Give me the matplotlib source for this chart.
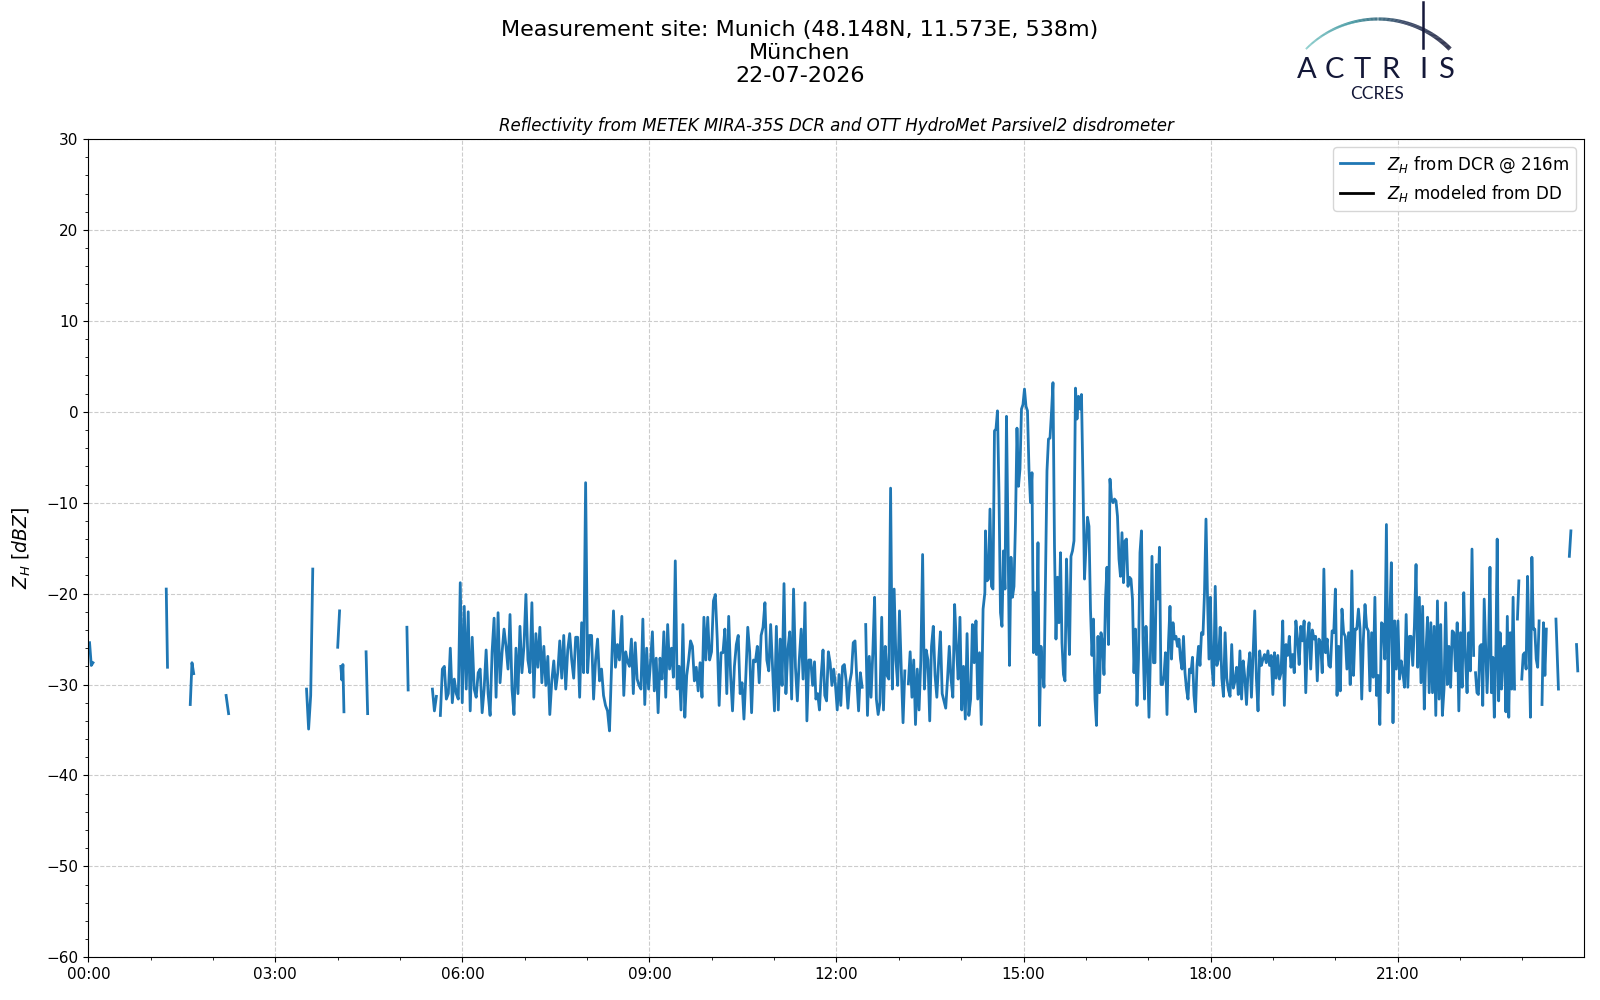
import numpy as np
import matplotlib
matplotlib.use("Agg")
import matplotlib.pyplot as plt
from matplotlib.ticker import MultipleLocator, FuncFormatter
from matplotlib.collections import LineCollection
from matplotlib.colors import LinearSegmentedColormap

nan = np.nan

# --- radar reflectivity (dBZ) ---
# short isolated echoes before the main period: (start h, end h, values)
zh_early = [
    (0.02, 0.075, [-25.4, -27.9, -27.6]),
    (1.25, 1.27, [-19.5, -28.1]),
    (1.635, 1.69, [-32.2, -27.6, -28.8]),
    (2.21, 2.25, [-31.2, -33.2]),
    (3.50, 3.60, [-30.5, -34.9, -31.2, -17.3]),
    (4.00, 4.03, [-25.9, -21.9]),
    (4.05, 4.10, [-28.0, -29.5, -27.8, -33.0]),
    (4.455, 4.48, [-26.4, -33.2]),
    (5.11, 5.13, [-23.7, -30.6]),
]

t_a = (5.519, 8.519)
zh_a = [-30.5, -32.9, -31.3, nan, -33.4, -28.3, -28, -31.6, -31, -26,
        -32, -29.4, -31, -31.6, -18.8, -32, -21.4, -30.5, -22, -32.9,
        -24.8, -30.5, -31.4, -28.7, -28.3, -33.1, -30.5, -26.2, -31, -33.4,
        -26.4, -22.7, -31.4, -22.1, -29.8, -26.5, -23.9, -25.8, -28.3, -22.3,
        -30.5, -33.3, -26, -31, -23.6, -28.7, -25.8, -20.1, -27.3, -28.7,
        -21, -31.4, -24.4, -28.1, -23.7, -29.8, -25.8, -30.1, -26.9, -33.3,
        -29.6, -27.4, -30.5, -28.7, -25.2, -29.3, -24.6, -30.5, -26.2, -24.4,
        -27.3, -29.3, -24.8, -24.8, -31.4, -23.2, -28.7, -7.8, -28.7, -24.6,
        -24.6, -31.6, -27.3, -25, -29.6, -28.3, -31.2, -32.3, -32.9, -35.1,
        -28.3, -21.9, -28.1, -25.6, -27.3]

t_b = (8.558, 11.648)
zh_b = [-22.5, -31.2, -26.4, -27.5, -28, -25, -31, -25.4, -29.4, -30.1,
        -30.5, -22.8, -32.2, -26, -30.5, -27.6, -24.2, -30.7, -27.1, -33.1,
        -27.1, -29.4, -24.2, -31.4, -23.4, -28.3, -26, -29.2, -16.4, -30.5,
        -28, -32.8, -23.4, -33.6, -29, -27.3, -25.2, -25.8, -29.6, -28.1,
        -30.7, -27.6, -31.4, -22.6, -27.3, -22.6, -27.3, -26.4, -20.8, -20.1,
        -25, -32.3, -26.5, -26.5, -23.9, -31, -22.5, -29, -32.9, -28,
        -25.6, -24.6, -31, -29.8, -33.8, -29, -23.7, -26.4, -33.1, -27.3,
        -27.5, -25.8, -29.8, -24.6, -23.7, -21, -27.3, -28.5, -23.4, -28.1,
        -32.9, -23.6, -32.8, -25, -30.1, -18.9, -31, -26.2, -24.2, -31.6,
        -19.5, -28.1, -31.8, -27.3, -23.9, -29.4, -21, -34, -27.3, -27.3,
        -30.1, -27.5]

t_c = (11.67, 14.38)
zh_c = [-31.6, -31, -32.8, -28.9, -26.2, -31.2, -31.8, -26.4, -27.6, -30.1,
        -28.3, -30.1, -32.8, -28.9, -32.3, -28, -27.8, -29.6, -32.6, -29.8,
        -28.7, -25.4, -25.2, -29.4, -32.9, -28.7, -30.3, nan, -23.4, -33.4,
        -26.9, -31.4, -26.5, -20.4, -31.6, -33.3, -32, -22.6, -32.8, -25.8,
        -29, -29.4, -8.4, -30.5, -19.5, -27.3, -30.1, -21.9, -28.3, -34.2,
        -28.5, nan, -29.9, -26.4, -31.4, -27.3, -34.4, -28.3, -32.8, -27.3,
        -15.7, -30.5, -26.2, -27.3, -34, -25.8, -23.6, -29, -31.4, -27.5,
        -24.2, -31, -31.8, -32.6, -29.4, -25.8, -29.4, -31.4, -21.2, -25.8,
        -29.4, -22.6, -32.8, -28, -33.8, -24.4, -33.4, -31.6, -23.4, -27.6,
        -23, -31.6, -26.5, -34.4, -21.7, -19.9]

t_d = (14.39, 17.975)
zh_d = [-13.1, -18.6, -18.4, -10.7, -19.2, -19.5, -2.1, -1.9, 0.1, -8.9,
        -22.1, -23.6, -15.3, -19.5, -0.5, -13.3, -27.9, -16, -20.4, -19.2,
        -12.2, -1.8, -8.2, -6.3, 0.3, 0.8, 2.5, 0.6, 0.1, -6.3,
        -10, -6.7, -26.5, -19.9, -26.7, -14.4, -34.5, -25.8, -28.3, -30.3,
        -18.1, -6.5, -3, -2.9, -0.1, 3.2, -14.8, -25, -18.2, -23.2,
        -15.5, -25.4, -28.9, -29.6, -16.2, -22.1, -26.7, -15.9, -15.3, -14.2,
        2.6, -0.8, 1.7, 0.3, 1.9, -7.8, -18.4, -14.8, -11.6, -12.6,
        -21.7, -26.8, -22.8, -31.6, -34.5, -24.7, -30.9, -24.3, -25.4, -28.9,
        -20.6, -17.1, -25.6, -7.4, -9.6, -10, -9.6, -9.8, -11.5, -16.2,
        -18.1, -13.3, -18.8, -14.2, -14, -19.2, -18.2, -18.4, -20.6, -28.7,
        -23.9, -32.3, -27.2, -15.5, -13.1, -25, -31.6, -23.6, -27.2, -33.6,
        -26.5, -15.9, -27.6, -27.6, -16.8, -20.6, -14.9, -30, -30, -29,
        -26.5, -33.3, -25.4, -21.4, -27.2, -23.2, -25, -24.7, -25.8, -25,
        -27.2, -28.3, -24.7, -28.7, -30.5, -31.6, -28.3, -28.7, -27, -31.2,
        -33, -27.9, -25.8, -27.9, -24.3, -24.5, -19.9, -11.8, -20.3, -27.2]

t_e = (17.996, 22.22)
zh_e = [-20.4, -28.1, -30.1, -19.2, -27.9, -27.2, -23.7, -29.3, -31.3, -24.3,
        -29.3, -30.6, -31.3, -25.6, -30.4, -29.6, -28.1, -31.1, -26.3, -31.6,
        -27.4, -29.3, -32.2, -28.3, -26.5, -31.4, -26.5, -21.9, -29.3, -32.9,
        -26.3, -27.9, -27.2, -26.7, -27.6, -26.3, -27.9, -26.8, -31.1, -26.5,
        -29.3, -26.8, -29.4, -28.7, -23, -32.3, -25.6, -26.8, -24.7, -28.1,
        -26.7, -28.7, -23, -25, -27.8, -23.6, -25.2, -23, -30.9, -25,
        -23.2, -28.3, -24, -25, -24.7, -29.6, -25, -25.4, -28.7, -17.3,
        -26.5, -25, -27.9, -28.1, -24.1, -24.3, -19.5, -31.2, -25.8, -30.7,
        -21.7, -24.3, -24.7, -28.3, -24.3, -30, -17.5, -29, -23.9, -23.9,
        -21.7, -23.9, -31.6, -25, -21.2, -23.7, -24.1, -30.7, -24.3, -29.2,
        -20.4, -31.2, -29, -34.4, -23.2, -23.4, -27.2, -12.4, -30.9, -23,
        -16.6, -34.2, -23, -28.3, -23, -29.4, -27.4, -28.7, -30.3, -22.3,
        -30.3, -24.7, -24.7, -27.9, -23.6, -16.8, -28.1, -20.4, -29.8, -21.4,
        -32.7, -26.5, -22.6, -30.9, -23.2, -30.9, -23.6, -33.4, -20.8, -31.6,
        -23.4, -33.4, -30.5, -21, -30, -25.8, -30.3, -24.1, -24.3, -28.5,
        -23.2, -32.9, -24.3, -30.3, -19.9, -27, -30.9, -24.3, -28.5, -15.1,
        -26.8]

t_f = (22.25, 23.386)
zh_f = [-28.7, -30.9, -31.1, -25.8, -25.6, -32.3, -20.6, -25.8, -30.9, -26.1,
        -17.1, -30.9, -27, -33.6, -27.6, -14, -31.8, -24.3, -30.5, -26.1,
        -25.8, -33, -22.5, -33.6, -24.3, -30.5, -20.4, -30.5, nan, -22.8,
        -18.6, nan, -29.4, -26.7, -26.5, -28.3, -18.1, -25, -33.6, -16,
        -23.9, -23.9, -27.2, -28.1, -23, nan, -32.2, -23.2, -29, -23.9]

zh_late = [
    (23.54, 23.58, [-22.8, -30.5]),
    (23.755, 23.78, [-15.9, -13.1]),
    (23.87, 23.89, [-25.6, -28.5]),
]

# assemble one series, NaN between separated pieces
time_h, zh = [], []
for t0, t1, vals in zh_early:
    time_h += list(np.linspace(t0, t1, len(vals))) + [nan]
    zh += vals + [nan]
for (t0, t1), vals in [(t_a, zh_a), (t_b, zh_b), (t_c, zh_c),
                       (t_d, zh_d), (t_e, zh_e)]:
    time_h += list(np.linspace(t0, t1, len(vals)))
    zh += vals
time_h.append(nan)
zh.append(nan)
for t0, t1, vals in [(t_f[0], t_f[1], zh_f)] + zh_late:
    time_h += list(np.linspace(t0, t1, len(vals))) + [nan]
    zh += vals + [nan]

time_h = np.array(time_h)
zh = np.array(zh)

fig = plt.figure(figsize=(16, 10), dpi=100)
ax = fig.add_axes([0.0552, 0.0427, 0.9348, 0.8183])

ax.plot(time_h, zh, color="tab:blue", lw=2, label="$Z_H$ from DCR @ 216m")
ax.plot([], [], color="black", lw=2, label="$Z_H$ modeled from DD")

# axis runs to the last sample of the day, so no 24:00 label
ax.set_xlim(0, 23.99)
ax.set_ylim(-60, 30)
ax.xaxis.set_major_locator(MultipleLocator(3))
ax.xaxis.set_minor_locator(MultipleLocator(1))
ax.xaxis.set_major_formatter(FuncFormatter(lambda v, p: "%02d:00" % int(round(v))))
ax.yaxis.set_major_locator(MultipleLocator(10))
ax.yaxis.set_minor_locator(MultipleLocator(2))
ax.tick_params(labelsize=11)
ax.grid(True, which="major", linestyle="--", color="#cccccc", lw=0.8)

ax.set_ylabel("$Z_H$ [$dBZ$]", fontsize=13.5, labelpad=10)
ax.set_title("Reflectivity from METEK MIRA-35S DCR and OTT HydroMet Parsivel2 disdrometer",
             fontsize=12, style="italic")
ax.legend(loc="upper right", fontsize=12)

fig.suptitle("Measurement site: Munich (48.148N, 11.573E, 538m)\nMünchen\n22-07-2026",
             fontsize=16, x=0.5, y=0.98, linespacing=1.2)

# --- ACTRIS CCRES logo, drawn in pixel units ---
lax = fig.add_axes([1270 / 1600, 1 - 110 / 1000, 200 / 1600, 110 / 1000])
lax.set_xlim(1270, 1470)
lax.set_ylim(110, 0)
lax.axis("off")

th = np.linspace(-0.79, 0.79, 200)
arc_x = 1378 + 101.4 * np.sin(th)
arc_y = 120.4 - 101.4 * np.cos(th)
pts = np.array([arc_x, arc_y]).T.reshape(-1, 1, 2)
segs = np.concatenate([pts[:-1], pts[1:]], axis=1)
cmap = LinearSegmentedColormap.from_list("actris", ["#7cc8c6", "#2a8a95", "#1b2b4e", "#0f1231"])
lc = LineCollection(segs, cmap=cmap, linewidths=np.linspace(1.3, 3.2, len(segs)))
lc.set_array(np.linspace(0, 1, len(segs)))
lax.add_collection(lc)
lax.plot([1423, 1423], [2, 48], color="#15183a", lw=1.8)

navy = "#141838"
for letter, lx in zip("ACTRIS", [1307, 1334, 1362, 1390, 1423, 1446]):
    lax.text(lx, 70, letter, fontsize=21, family="Lato", color=navy,
             ha="center", va="center")
lax.text(1377, 94, "CCRES", fontsize=12.5, family="Lato", color=navy,
         ha="center", va="center")

fig.savefig("out.png", dpi=100)
